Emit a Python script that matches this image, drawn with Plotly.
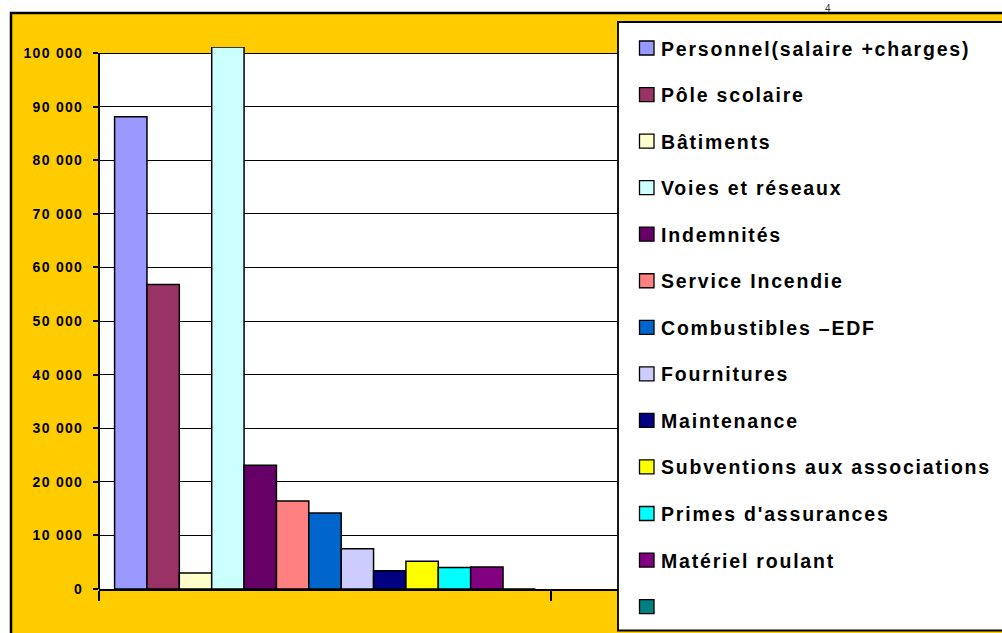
import plotly.graph_objects as go

# ---------------- data ----------------
CATEGORY = ["Dépenses"]
SERIES = [
    "Personnel(salaire +charges)",
    "Pôle scolaire",
    "Bâtiments",
    "Voies et réseaux",
    "Indemnités",
    "Service Incendie",
    "Combustibles –EDF",
    "Fournitures",
    "Maintenance",
    "Subventions aux associations",
    "Primes d'assurances",
    "Matériel roulant",
    "",
]
VALUES = [88100, 56800, 3000, 101100, 23100, 16400, 14200, 7500, 3400, 5200, 4000, 4100, 0]
COLORS = [
    "#9999FF", "#993366", "#FFFFCC", "#CCFFFF", "#660066", "#FF8080",
    "#0066CC", "#CCCCFF", "#000080", "#FFFF00", "#00FFFF", "#800080", "#008080",
]
Y_TICKS = [0, 10000, 20000, 30000, 40000, 50000, 60000, 70000, 80000, 90000, 100000]
Y_TICKTEXT = [f"{v:,}".replace(",", " ") for v in Y_TICKS]
PAGE_NUMBER = "4"

# ---------------- geometry helpers ----------------
W, H = 1002, 633
ML, MR, MT, MB = 99, 0, 47, 44
PW, PH = W - ML - MR, H - MT - MB
CAT_PX = 452.0          # pixel width of one category
Y_MAX = 101120


def xp(px):
    return (px - ML) / PW


def yp(py):
    return (H - MB - py) / PH


FONT = "Liberation Sans, Arial, Helvetica, sans-serif"

fig = go.Figure()
for name, val, col in zip(SERIES, VALUES, COLORS):
    fig.add_trace(go.Bar(
        x=CATEGORY, y=[val], name=name if name else " ",
        marker=dict(color=col, line=dict(color="black", width=1.5)),
        showlegend=False, hoverinfo="name+y",
    ))

shapes = [
    # outer yellow frame
    dict(type="rect", xref="paper", yref="paper", x0=xp(11), x1=xp(1200),
         y0=yp(13), y1=yp(800), fillcolor="#FFCC00",
         line=dict(color="black", width=2.5), layer="below"),
    # white plot area (up to 100 000)
    dict(type="rect", xref="paper", yref="y", x0=0, x1=1, y0=0, y1=100000,
         fillcolor="white", line=dict(width=0), layer="below"),
    # y axis line
    dict(type="line", xref="paper", yref="y", x0=0, x1=0, y0=0, y1=100000,
         line=dict(color="black", width=2), layer="above"),
    # legend box
    dict(type="rect", xref="paper", yref="paper", x0=xp(618), x1=xp(1200),
         y0=yp(22), y1=yp(630.5), fillcolor="white",
         line=dict(color="black", width=1.8), layer="above"),
]

annotations = []
for i, (name, col) in enumerate(zip(SERIES, COLORS)):
    cy = 48 + 46.55 * i
    shapes.append(dict(type="rect", xref="paper", yref="paper",
                       x0=xp(639.5), x1=xp(654), y0=yp(cy - 7), y1=yp(cy + 7),
                       fillcolor=col, line=dict(color="black", width=1.3),
                       layer="above"))
    if name:
        annotations.append(dict(
            xref="paper", yref="paper", x=xp(659), y=yp(cy + 0.5),
            xanchor="left", yanchor="middle", showarrow=False,
            text=f"<span style='letter-spacing:1.8px'>{name}</span>",
            font=dict(family=FONT, size=19.5, color="black", weight="bold"),
        ))

annotations.append(dict(
    xref="paper", yref="paper", x=xp(828), y=yp(16), xanchor="center",
    yanchor="bottom", showarrow=False, text=PAGE_NUMBER,
    font=dict(family=FONT, size=10, color="#333333"),
))

fig.update_layout(
    width=W, height=H,
    margin=dict(l=ML, r=MR, t=MT, b=MB, pad=0),
    paper_bgcolor="white",
    plot_bgcolor="rgba(0,0,0,0)",
    barmode="group", bargap=0.069, bargroupgap=0,
    showlegend=False,
    shapes=shapes,
    annotations=annotations,
    xaxis=dict(
        type="category", range=[-0.5, -0.5 + PW / CAT_PX],
        showticklabels=False, ticks="outside", tickson="boundaries",
        ticklen=10, tickwidth=2, tickcolor="black",
        showline=True, linecolor="black", linewidth=2,
        showgrid=False, zeroline=False, automargin=False,
    ),
    yaxis=dict(
        range=[0, Y_MAX], tickmode="array", tickvals=Y_TICKS,
        ticktext=[f"<span style='letter-spacing:1.3px'>{t}</span>" for t in Y_TICKTEXT],
        ticks="outside", ticklen=5, tickwidth=1.5, tickcolor="black",
        tickfont=dict(family=FONT, size=14, color="black", weight="bold"),
        ticklabelstandoff=7,
        showgrid=True, gridcolor="black", gridwidth=1.2,
        showline=False, zeroline=False, automargin=False,
    ),
)

fig.write_html(
    "out.html",
    config={"displayModeBar": False},
    post_script="document.body.style.margin='0';document.body.style.overflow='hidden';",
)
